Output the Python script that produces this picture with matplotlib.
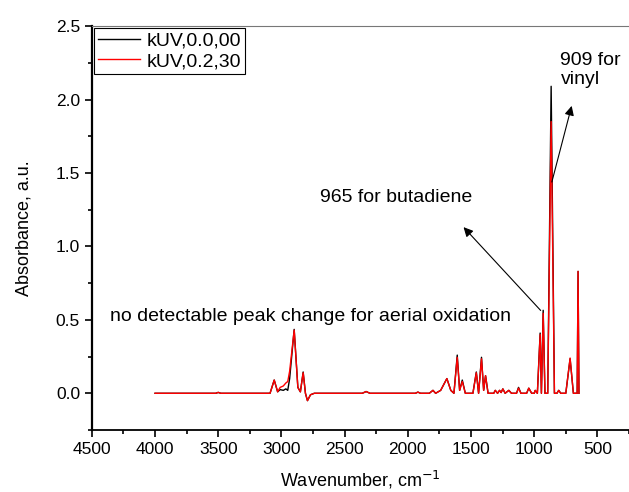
import matplotlib.pyplot as plt
from matplotlib.ticker import MultipleLocator, FormatStrFormatter

plt.rcParams['font.family'] = ['Liberation Sans', 'DejaVu Sans']

# Data
wavenumber = [4000, 3520, 3500, 3480, 3090, 3057, 3030, 3010, 2985, 2965, 2950,
              2935, 2899, 2870, 2850, 2828, 2810, 2794, 2770, 2740, 2360, 2330,
              2300, 1940, 1920, 1900, 1830, 1801, 1780, 1740, 1691, 1660, 1635,
              1609, 1590, 1569, 1545, 1485, 1458, 1440, 1417, 1400, 1385, 1365,
              1320, 1308, 1290, 1274, 1262, 1248, 1230, 1201, 1180, 1140, 1124,
              1105, 1060, 1043, 1020, 1000, 992, 975, 953, 943, 929, 915, 893,
              866, 840, 820, 806, 790, 750, 716, 690, 660, 653, 646]
abs_0 = [0.0, 0.0, 0.006, 0.0, 0.0, 0.09, 0.01, 0.025, 0.02, 0.03, 0.02,
         0.10, 0.435, 0.04, 0.01, 0.145, 0.0, -0.05, -0.01, 0.0, 0.0, 0.012,
         0.0, 0.0, 0.008, 0.0, 0.0, 0.02, 0.0, 0.02, 0.10, 0.02, 0.0,
         0.26, 0.02, 0.09, 0.0, 0.0, 0.145, 0.0, 0.245, 0.02, 0.12, 0.0,
         0.0, 0.02, 0.0, 0.02, 0.005, 0.03, 0.0, 0.02, 0.0, 0.0, 0.04,
         0.0, 0.0, 0.035, 0.0, 0.0, 0.02, 0.0, 0.41, 0.0, 0.565, 0.0, 0.0,
         2.09, 0.0, 0.0, 0.02, 0.0, 0.0, 0.235, 0.0, 0.0, 0.83, 0.0]
abs_30 = [0.0, 0.0, 0.006, 0.0, 0.0, 0.09, 0.01, 0.04, 0.05, 0.07, 0.08,
          0.15, 0.43, 0.04, 0.01, 0.14, 0.0, -0.05, -0.01, 0.0, 0.0, 0.012,
          0.0, 0.0, 0.008, 0.0, 0.0, 0.02, 0.0, 0.02, 0.10, 0.02, 0.0,
          0.245, 0.02, 0.08, 0.0, 0.0, 0.14, 0.0, 0.235, 0.02, 0.12, 0.0,
          0.0, 0.02, 0.0, 0.02, 0.005, 0.03, 0.0, 0.02, 0.0, 0.0, 0.035,
          0.0, 0.0, 0.035, 0.0, 0.0, 0.02, 0.0, 0.40, 0.0, 0.545, 0.0, 0.0,
          1.85, 0.0, 0.0, 0.02, 0.0, 0.0, 0.24, 0.0, 0.0, 0.83, 0.0]
labels = ['kUV,0.0,00', 'kUV,0.2,30']

fig = plt.figure(figsize=(6.29, 4.92), dpi=100)
ax = fig.add_axes([0.146, 0.126, 0.854, 0.821])

ax.plot(wavenumber, abs_0, color='black', lw=1.0, label=labels[0])
ax.plot(wavenumber, abs_30, color='#ff0000', lw=1.0, label=labels[1])

ax.set_xlim(4500, 250)
ax.set_ylim(-0.25, 2.5)

ax.xaxis.set_major_locator(MultipleLocator(500))
ax.xaxis.set_minor_locator(MultipleLocator(250))
ax.yaxis.set_major_locator(MultipleLocator(0.5))
ax.yaxis.set_minor_locator(MultipleLocator(0.25))
ax.yaxis.set_major_formatter(FormatStrFormatter('%.1f'))
ax.tick_params(which='both', direction='out', labelsize=12.5, width=1.2)
ax.tick_params(which='major', length=5)
ax.tick_params(which='minor', length=3)

ax.spines['right'].set_visible(False)
ax.spines['top'].set_color('#777777')
ax.spines['left'].set_linewidth(1.6)
ax.spines['bottom'].set_linewidth(1.3)

ax.set_xlabel('Wavenumber, cm$^{-1}$', fontsize=13, labelpad=9)
ax.set_ylabel('Absorbance, a.u.', fontsize=13, labelpad=17)

leg = ax.legend(loc='upper left', fontsize=14, fancybox=False, framealpha=1,
                edgecolor='black', borderaxespad=0.1, handlelength=2.2,
                borderpad=0.2, labelspacing=0.15, handletextpad=0.3)
leg.get_frame().set_linewidth(0.8)

# Annotations
ax.annotate('', xy=(698, 1.975), xytext=(866, 1.42),
            arrowprops=dict(arrowstyle='-|>', color='black', lw=0.8,
                            mutation_scale=14))
ax.text(792, 2.2, '909 for\nvinyl', fontsize=14, ha='left', va='center',
        linespacing=1.1)

ax.annotate('', xy=(1574, 1.145), xytext=(934, 0.55),
            arrowprops=dict(arrowstyle='-|>', color='black', lw=0.8,
                            mutation_scale=14))
ax.text(2696, 1.33, '965 for butadiene', fontsize=14, ha='left', va='center')

ax.text(4355, 0.52, 'no detectable peak change for aerial oxidation',
        fontsize=14, ha='left', va='center')

fig.savefig('out.png', dpi=100)
